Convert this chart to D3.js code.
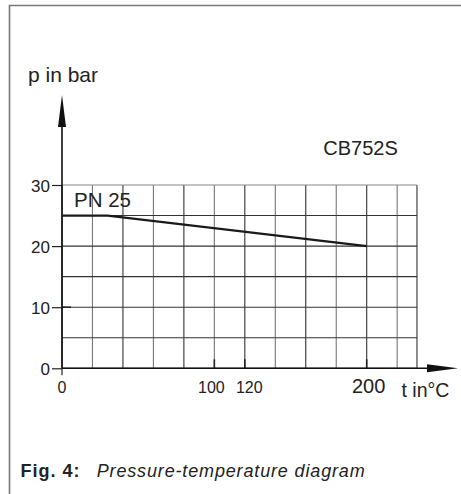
<!DOCTYPE html>
<html><head><meta charset="utf-8">
<script src="https://cdn.jsdelivr.net/npm/d3@7"></script>
<style>html,body{margin:0;padding:0;background:#fff;}svg{display:block;font-family:"Liberation Sans",Arial,sans-serif;}</style>
</head><body>
<script>
// Data
const tempTicks = [0, 100, 120, 200];
const tempBigTicks = [200];
const pressTicks = [0, 10, 20, 30];
const curveT = [0, 30, 200];
const curveP = [25, 25, 20];
const tempGridStep = 20;
const tempMax = 233;
const pressGridStep = 5;
const pressMax = 30;
const seriesLabel = "PN 25";
const productLabel = "CB752S";
const yTitle = "p in bar";
const xTitle = "t in°C";
const captionBold = "Fig. 4:";
const captionItalic = "Pressure-temperature diagram";

const W = 461, H = 494;
const svg = d3.select("body").append("svg").attr("width", W).attr("height", H);

const x = d3.scaleLinear().domain([0, 200]).range([62, 366.7]);
const y = d3.scaleLinear().domain([0, 30]).range([368.3, 185]);

// frame
svg.append("path").attr("d", `M9.5,${H} V5.5 H${W}`).attr("fill", "none")
  .attr("stroke", "#777").attr("stroke-width", 1.6);

// grid
const g = svg.append("g");
const vGrid = d3.range(0, tempMax, tempGridStep).concat([tempMax]);
g.selectAll(".vg").data(vGrid).join("line")
  .attr("x1", d => x(d)).attr("x2", d => x(d))
  .attr("y1", y(0)).attr("y2", y(pressMax))
  .attr("stroke", (d, i) => i % 2 ? "#777" : "#333").attr("stroke-width", 1.1);
const hGrid = d3.range(0, pressMax + 0.1, pressGridStep);
g.selectAll(".hg").data(hGrid).join("line")
  .attr("x1", x(0)).attr("x2", x(tempMax))
  .attr("y1", d => y(d)).attr("y2", d => y(d))
  .attr("stroke", d => d === pressMax ? "#888" : "#333").attr("stroke-width", 1.1);

// y axis ticks & labels
const yAxis = d3.axisLeft(y).tickValues(pressTicks).tickSize(10).tickPadding(2).tickFormat(d3.format("d"));
const ya = svg.append("g").attr("transform", `translate(${x(0)},0)`).call(yAxis);
ya.select(".domain").remove();
ya.selectAll(".tick line").attr("stroke", "#222").attr("stroke-width", 1.2);
ya.selectAll(".tick text").attr("font-size", 17).attr("fill", "#222")
  .attr("font-family", "'Liberation Sans',Arial,sans-serif").attr("dy", "0.36em");

// x tick labels (100 and 120 nudged apart as in the original)
const nudge = d => d === 100 ? -3 : d === 120 ? 4.5 : d === 200 ? 2 : 0;
svg.selectAll(".xl").data(tempTicks).join("text")
  .attr("x", d => x(d) + nudge(d)).attr("y", 393)
  .attr("text-anchor", "middle")
  .attr("font-size", d => tempBigTicks.includes(d) ? 20 : 16)
  .attr("fill", "#222").text(d => d);
// small x ticks
svg.selectAll(".xt").data(tempTicks.filter(d => d > 0)).join("line")
  .attr("x1", d => x(d)).attr("x2", d => x(d)).attr("y1", y(0) - 9).attr("y2", y(0))
  .attr("stroke", "#222").attr("stroke-width", 1.6);
svg.append("line").attr("x1", x(0)).attr("x2", x(0)).attr("y1", y(0)).attr("y2", y(0) + 7)
  .attr("stroke", "#222").attr("stroke-width", 1.2);
svg.append("line").attr("x1", x(0)).attr("x2", x(0) + 9).attr("y1", y(10)).attr("y2", y(10))
  .attr("stroke", "#222").attr("stroke-width", 1.6);

// axes lines with arrows
const yTip = 95, xTip = 458;
svg.append("line").attr("x1", x(0)).attr("x2", x(0)).attr("y1", y(0)).attr("y2", yTip + 20)
  .attr("stroke", "#111").attr("stroke-width", 1.6);
svg.append("path").attr("d", `M${x(0)},${yTip} L${x(0) - 4},${yTip + 32} L${x(0) + 4},${yTip + 32} Z`).attr("fill", "#111");
svg.append("line").attr("x1", x(0)).attr("x2", xTip - 20).attr("y1", y(0)).attr("y2", y(0))
  .attr("stroke", "#111").attr("stroke-width", 1.6);
svg.append("path").attr("d", `M${xTip},${y(0)} L${xTip - 31},${y(0) - 4} L${xTip - 31},${y(0) + 4} Z`).attr("fill", "#111");

// curve
const line = d3.line().x(d => x(d[0])).y(d => y(d[1]));
svg.append("path").datum(curveT.map((t, i) => [t, curveP[i]]))
  .attr("d", line).attr("fill", "none").attr("stroke", "#1a1a1a").attr("stroke-width", 2.2);

// texts
svg.append("text").attr("x", 28).attr("y", 81.5).attr("font-size", 21).attr("fill", "#222").text(yTitle);
svg.append("text").attr("x", 401.5).attr("y", 396.5).attr("font-size", 19.5).attr("fill", "#222").text(xTitle);
svg.append("text").attr("x", 74).attr("y", 207).attr("font-size", 20.5).attr("fill", "#222").text(seriesLabel);
svg.append("text").attr("x", 323.3).attr("y", 155).attr("font-size", 20).attr("fill", "#222").text(productLabel);

// caption
svg.append("text").attr("x", 20.5).attr("y", 477.3).attr("font-size", 18).attr("font-weight", "bold")
  .attr("fill", "#222").attr("textLength", 59).attr("lengthAdjust", "spacing").text(captionBold);
svg.append("text").attr("x", 96.7).attr("y", 477.3).attr("font-size", 18).attr("font-style", "italic")
  .attr("fill", "#222").attr("textLength", 268).attr("lengthAdjust", "spacing").text(captionItalic);
</script>
</body></html>
